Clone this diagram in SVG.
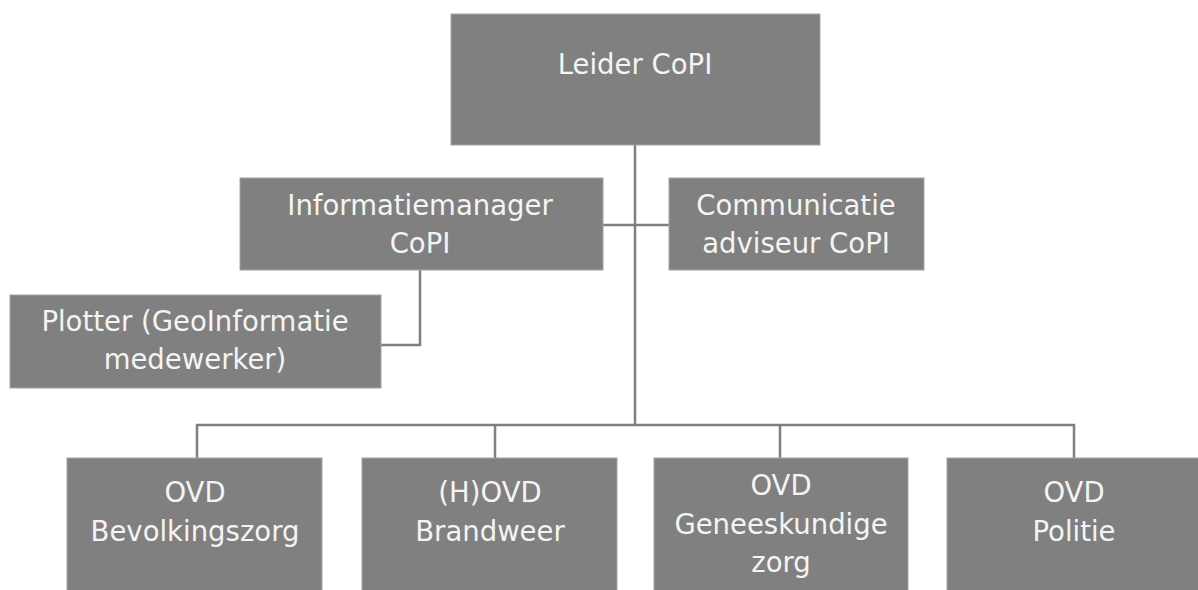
<svg xmlns="http://www.w3.org/2000/svg" width="1198" height="590" viewBox="0 0 1198 590">
<style>
.box{fill:#808080;stroke:#a3a3a3;stroke-width:1}
.lbl{font-family:"DejaVu Sans",Verdana,sans-serif;font-size:27.5px;fill:#f4f4f4;text-anchor:middle}
.conn{fill:none;stroke:#7f7f7f;stroke-width:2.5}
</style>
<rect width="1198" height="590" fill="#ffffff"/>
<g id="connectors">
<path class="conn" d="M635 145 V425"/>
<path class="conn" d="M603 225 H669"/>
<path class="conn" d="M420 270 V345 H381"/>
<path class="conn" d="M197 458 V425 H1074 V458"/>
<path class="conn" d="M495 425 V458"/>
<path class="conn" d="M780 425 V458"/>
</g>
<g id="leider">
<rect class="box" x="451" y="14" width="369" height="131"/>
<text class="lbl" x="635" y="74">Leider CoPI</text>
</g>
<g id="informatiemanager">
<rect class="box" x="240" y="178" width="363" height="92"/>
<text class="lbl" x="420" y="215">Informatiemanager</text>
<text class="lbl" x="420" y="253">CoPI</text>
</g>
<g id="communicatie">
<rect class="box" x="669" y="178" width="255" height="92"/>
<text class="lbl" x="796" y="215">Communicatie</text>
<text class="lbl" x="796" y="253">adviseur CoPI</text>
</g>
<g id="plotter">
<rect class="box" x="10" y="295" width="371" height="93"/>
<text class="lbl" x="195" y="331">Plotter (GeoInformatie</text>
<text class="lbl" x="195" y="369">medewerker)</text>
</g>
<g id="ovd-bevolkingszorg">
<rect class="box" x="67" y="458" width="255" height="150"/>
<text class="lbl" x="195" y="502">OVD</text>
<text class="lbl" x="195" y="541">Bevolkingszorg</text>
</g>
<g id="hovd-brandweer">
<rect class="box" x="362" y="458" width="255" height="150"/>
<text class="lbl" x="490" y="502">(H)OVD</text>
<text class="lbl" x="490" y="541">Brandweer</text>
</g>
<g id="ovd-geneeskundige-zorg">
<rect class="box" x="654" y="458" width="254" height="150"/>
<text class="lbl" x="781" y="495">OVD</text>
<text class="lbl" x="781" y="534">Geneeskundige</text>
<text class="lbl" x="781" y="572">zorg</text>
</g>
<g id="ovd-politie">
<rect class="box" x="947" y="458" width="260" height="150"/>
<text class="lbl" x="1074" y="502">OVD</text>
<text class="lbl" x="1074" y="541">Politie</text>
</g>
</svg>
